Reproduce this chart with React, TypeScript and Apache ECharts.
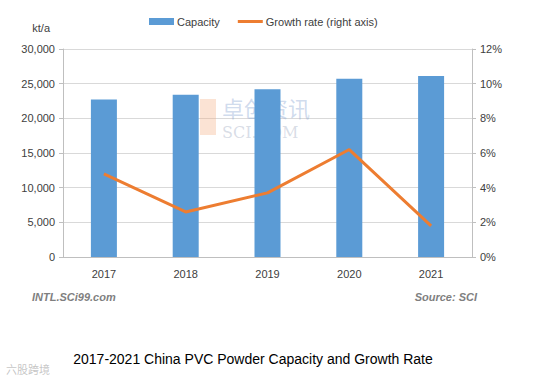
import React, { useEffect, useRef } from "react";
import * as echarts from "echarts";

const years = ["2017", "2018", "2019", "2020", "2021"];
const capacity = [22700, 23400, 24200, 25700, 26100];
const growthRate = [4.8, 2.6, 3.7, 6.2, 1.8];
const leftTicks = { min: 0, max: 30000, interval: 5000 };
const rightTicks = { min: 0, max: 12, interval: 2 };

const FONT = "Liberation Sans, Arial, sans-serif";

export default function App() {
  const ref = useRef<HTMLDivElement>(null);
  useEffect(() => {
    if (!ref.current) return;
    const chart = echarts.init(ref.current, undefined, { renderer: "svg" });
    chart.setOption({
      animation: false,
      backgroundColor: "#ffffff",
      textStyle: { fontFamily: FONT },
      grid: { left: 63, right: 63, top: 49, bottom: 125, containLabel: false },
      legend: {
        left: 144,
        top: 11,
        itemWidth: 25,
        itemHeight: 7,
        itemGap: 18,
        textStyle: { fontSize: 11, color: "#404040", fontFamily: FONT, padding: [0, 0, 0, -2] },
        data: [
          { name: "Capacity", icon: "rect" },
          { name: "Growth rate (right axis)", icon: "path://M0,0 L25,0 L25,3 L0,3 Z" },
        ],
      },
      xAxis: {
        type: "category",
        data: years,
        axisLine: { show: true, lineStyle: { color: "#bfbfbf", width: 1 } },
        axisTick: { show: false },
        axisLabel: { fontSize: 11, color: "#404040", margin: 11 },
      },
      yAxis: [
        {
          type: "value",
          ...leftTicks,
          name: "kt/a",
          nameLocation: "end",
          nameGap: 16,
          nameTextStyle: { fontSize: 11, color: "#404040", align: "right", padding: [0, 13, 0, 0] },
          axisLine: { show: true, lineStyle: { color: "#bfbfbf" } },
          axisTick: { show: true, length: 4, lineStyle: { color: "#bfbfbf" } },
          splitLine: { show: true, lineStyle: { color: "#d9d9d9" } },
          axisLabel: {
            fontSize: 11,
            color: "#404040",
            margin: 8,
            formatter: (v: number) => v.toLocaleString("en-US"),
          },
        },
        {
          type: "value",
          ...rightTicks,
          position: "right",
          axisLine: { show: true, lineStyle: { color: "#bfbfbf" } },
          axisTick: { show: true, length: 4, lineStyle: { color: "#bfbfbf" } },
          splitLine: { show: false },
          axisLabel: { fontSize: 11, color: "#404040", margin: 8, formatter: "{value}%" },
        },
      ],
      series: [
        {
          name: "Capacity",
          type: "bar",
          data: capacity,
          barWidth: 26,
          itemStyle: { color: "#5b9bd5" },
          z: 2,
        },
        {
          name: "Growth rate (right axis)",
          type: "line",
          yAxisIndex: 1,
          data: growthRate,
          symbol: "none",
          lineStyle: { color: "#ed7d31", width: 3 },
          itemStyle: { color: "#ed7d31" },
          z: 3,
        },
      ],
      graphic: [
        {
          type: "rect",
          shape: { x: 200, y: 99, width: 16, height: 36 },
          style: { fill: "rgba(244,176,132,0.35)" },
          silent: true,
          z: 1,
        },
        {
          type: "text",
          x: 222,
          y: 96,
          style: { text: "卓创资讯", font: "22px 'Noto Sans CJK SC'", fill: "rgba(150,175,215,0.45)" },
          silent: true,
          z: 1,
        },
        {
          type: "text",
          x: 222,
          y: 124,
          style: { text: "SCI.COM", font: "16px 'DejaVu Serif', serif", fill: "rgba(170,180,200,0.45)" },
          silent: true,
          z: 1,
        },
        {
          type: "text",
          x: 32,
          y: 291,
          style: { text: "INTL.SCi99.com", font: "italic bold 11px " + FONT, fill: "#7f7f7f" },
        },
        {
          type: "text",
          x: 477,
          y: 291,
          style: { text: "Source: SCI", font: "italic bold 11px " + FONT, fill: "#7f7f7f", align: "right" },
        },
        {
          type: "text",
          x: 253,
          y: 352,
          style: { text: "2017-2021 China PVC Powder Capacity and Growth Rate", font: "14px " + FONT, fill: "#000000", align: "center" },
        },
        {
          type: "text",
          x: 6,
          y: 363,
          style: { text: "六股跨境", font: "11px 'Noto Sans CJK SC'", fill: "rgba(160,160,160,0.6)" },
        },
      ],
    });
    return () => chart.dispose();
  }, []);
  return <div ref={ref} style={{ position: "fixed", left: 0, top: 0, width: 535, height: 382 }} />;
}
